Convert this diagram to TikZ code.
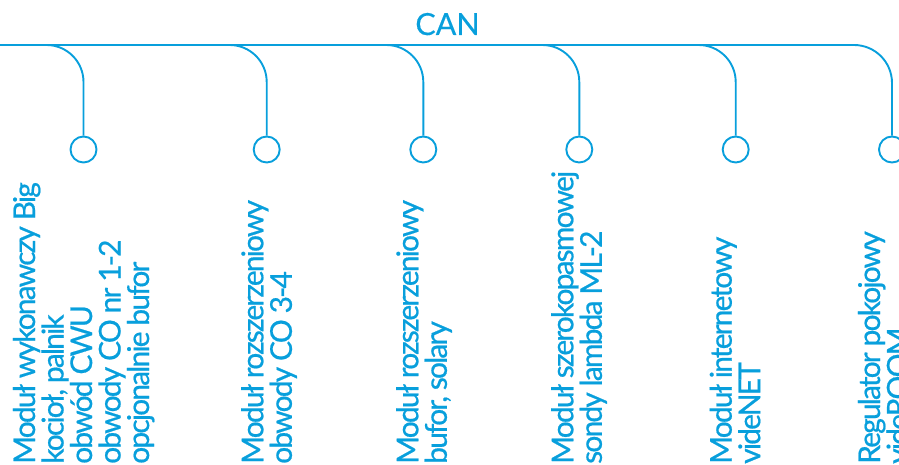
\documentclass[tikz,border=0pt]{standalone}
\usepackage{fontspec}
\setmainfont{Lato}
\newfontfamily\lblfont[LetterSpace=-6.2,FakeBold=0.6]{Lato}
\newfontfamily\titlefont[FakeBold=0.3]{Lato}
\definecolor{canblue}{RGB}{8,159,220}
\begin{document}
\begin{tikzpicture}[x=1pt,y=-1pt,
  wire/.style={draw=canblue,line width=1.9pt},
  port/.style={circle,draw=canblue,line width=1.9pt,minimum size=26pt,inner sep=0pt},
  lbl/.style={rotate=90,anchor=base west,inner sep=0pt,text=canblue,font=\lblfont\fontsize{30}{30}\selectfont},
  title/.style={anchor=base,inner sep=0pt,text=canblue,font=\titlefont\fontsize{30.5}{30.5}\selectfont}]
\useasboundingbox (0,0) rectangle (899,465);
\clip (0,0) rectangle (899,465);
% title
\node[title] (can) at (447.5,35) {CAN};
% ports
\node[port] (c1) at (83.5,149.5) {};
\node[port] (c2) at (266.7,149.5) {};
\node[port] (c3) at (423.3,149.5) {};
\node[port] (c4) at (579.3,149.5) {};
\node[port] (c5) at (735.7,149.5) {};
\node[port] (c6) at (892,149.5) {};
% bus
\coordinate (busL) at (0,45);
\coordinate (b1) at (46.5,45);
\coordinate (b2) at (229.7,45);
\coordinate (b3) at (386.3,45);
\coordinate (b4) at (542.3,45);
\coordinate (b5) at (698.7,45);
\draw[wire,rounded corners=38pt] (busL) -| (c6.north);
\draw[wire,rounded corners=37pt] (b1) -| (c1.north);
\draw[wire,rounded corners=37pt] (b2) -| (c2.north);
\draw[wire,rounded corners=37pt] (b3) -| (c3.north);
\draw[wire,rounded corners=37pt] (b4) -| (c4.north);
\draw[wire,rounded corners=37pt] (b5) -| (c5.north);
% labels
\node[lbl] (t11) at (35,464) {Moduł wykonawczy Big};
\node[lbl] (t12) at (63.5,464) {kocioł, palnik};
\node[lbl] (t13) at (92,464) {obwód CWU};
\node[lbl] (t14) at (120.5,464) {obwody CO nr 1-2};
\node[lbl] (t15) at (149,464) {opcjonalnie bufor};
\node[lbl] (t21) at (263.3,464) {Moduł rozszerzeniowy};
\node[lbl] (t22) at (291.8,464) {obwody CO 3-4};
\node[lbl] (t31) at (418.3,464) {Moduł rozszerzeniowy};
\node[lbl] (t32) at (446.8,464) {bufor, solary};
\node[lbl] (t41) at (573.3,464) {Moduł szerokopasmowej};
\node[lbl] (t42) at (601.8,464) {sondy lambda ML-2};
\node[lbl] (t51) at (731.7,464) {Moduł internetowy};
\node[lbl] (t52) at (760.2,464) {videNET};
\node[lbl] (t61) at (880,464) {Regulator pokojowy};
\node[lbl] (t62) at (908.5,464) {videROOM};
\end{tikzpicture}
\end{document}
